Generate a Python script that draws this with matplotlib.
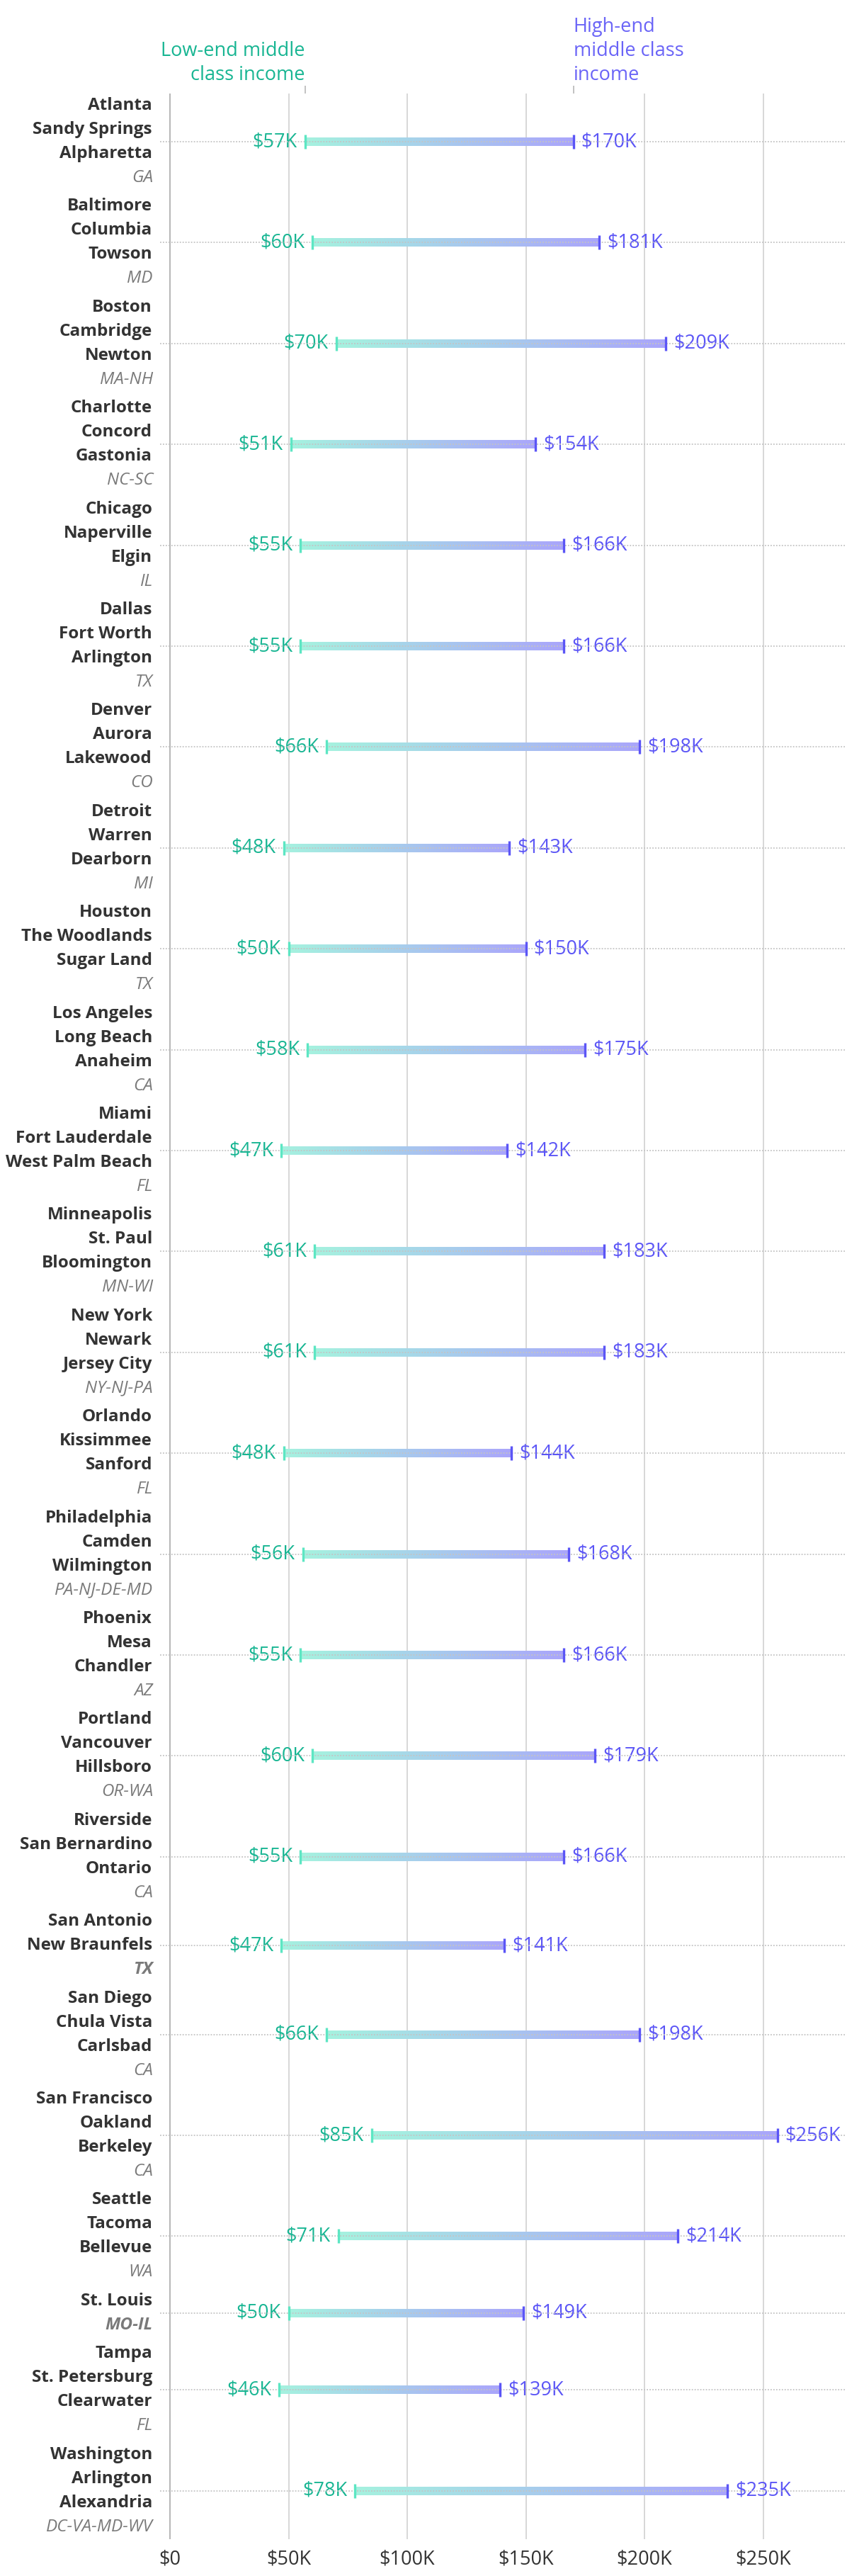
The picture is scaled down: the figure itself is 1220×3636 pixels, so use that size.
import numpy as np
import matplotlib.pyplot as plt
from matplotlib import transforms
from matplotlib.colors import LinearSegmentedColormap

plt.rcParams['font.family'] = ['Open Sans', 'DejaVu Sans']

# data
cities = [
    ['Atlanta', 'Sandy Springs', 'Alpharetta'],
    ['Baltimore', 'Columbia', 'Towson'],
    ['Boston', 'Cambridge', 'Newton'],
    ['Charlotte', 'Concord', 'Gastonia'],
    ['Chicago', 'Naperville', 'Elgin'],
    ['Dallas', 'Fort Worth', 'Arlington'],
    ['Denver', 'Aurora', 'Lakewood'],
    ['Detroit', 'Warren', 'Dearborn'],
    ['Houston', 'The Woodlands', 'Sugar Land'],
    ['Los Angeles', 'Long Beach', 'Anaheim'],
    ['Miami', 'Fort Lauderdale', 'West Palm Beach'],
    ['Minneapolis', 'St. Paul', 'Bloomington'],
    ['New York', 'Newark', 'Jersey City'],
    ['Orlando', 'Kissimmee', 'Sanford'],
    ['Philadelphia', 'Camden', 'Wilmington'],
    ['Phoenix', 'Mesa', 'Chandler'],
    ['Portland', 'Vancouver', 'Hillsboro'],
    ['Riverside', 'San Bernardino', 'Ontario'],
    ['San Antonio', 'New Braunfels'],
    ['San Diego', 'Chula Vista', 'Carlsbad'],
    ['San Francisco', 'Oakland', 'Berkeley'],
    ['Seattle', 'Tacoma', 'Bellevue'],
    ['St. Louis'],
    ['Tampa', 'St. Petersburg', 'Clearwater'],
    ['Washington', 'Arlington', 'Alexandria'],
]
states = ['GA', 'MD', 'MA-NH', 'NC-SC', 'IL', 'TX', 'CO', 'MI', 'TX', 'CA', 'FL',
          'MN-WI', 'NY-NJ-PA', 'FL', 'PA-NJ-DE-MD', 'AZ', 'OR-WA', 'CA', 'TX', 'CA',
          'CA', 'WA', 'MO-IL', 'FL', 'DC-VA-MD-WV']
low = [57, 60, 70, 51, 55, 55, 66, 48, 50, 58, 47, 61, 61, 48, 56, 55, 60, 55, 47,
       66, 85, 71, 50, 46, 78]
high = [170, 181, 209, 154, 166, 166, 198, 143, 150, 175, 142, 183, 183, 144, 168,
        166, 179, 166, 141, 198, 256, 214, 149, 139, 235]
xticks = [0, 50, 100, 150, 200, 250]
xticklabels = ['$0', '$50K', '$100K', '$150K', '$200K', '$250K']

teal_txt = '#17b592'
teal_tick = '#5de6c3'
purple = '#5b55f6'
dark = '#333333'
grey = '#7a7a7a'
name_fs = 17.5
val_fs = 19.5

W, H = 1220, 3636
fig = plt.figure(figsize=(W / 100, H / 100), dpi=100)

# layout in pixels
line_h = 34
gap = 6.4
n_lines = [len(c) + 1 for c in cities]
tops = []
y = 0
for n in n_lines:
    tops.append(y)
    y += n * line_h + gap
total = y - gap
centers = [t + n * line_h / 2 for t, n in zip(tops, n_lines)]

ax_top, ax_left, ax_right = 132, 226, 1193
x0_px, px_per_k = 240, 167.5 / 50
ax = fig.add_axes([ax_left / W, 1 - (ax_top + total) / H,
                   (ax_right - ax_left) / W, total / H])
xlim = ((ax_left - x0_px) / px_per_k, (ax_right - x0_px) / px_per_k)

# grid lines
for t in xticks:
    ax.axvline(t, color='#b0b0b0' if t == 0 else '#d4d4d4', lw=1.3, zorder=0)

cmap = LinearSegmentedColormap.from_list('mc', ['#a5f2df', '#aaa5fb'])
grad = np.linspace(0, 1, 256).reshape(1, -1)

for i in range(len(cities)):
    c = centers[i]
    ax.imshow(grad, cmap=cmap, aspect='auto', extent=(low[i], high[i], c + 6, c - 6),
              zorder=2, interpolation='bilinear')
    ax.vlines(low[i], c - 10, c + 10, color=teal_tick, lw=2.4, zorder=4)
    ax.vlines(high[i], c - 10, c + 10, color=purple, lw=2.4, zorder=4)
    ax.annotate(f'${low[i]}K', (low[i], c), xytext=(-8, 0), textcoords='offset points',
                ha='right', va='center', color=teal_txt, fontsize=val_fs)
    ax.annotate(f'${high[i]}K', (high[i], c), xytext=(8, 0), textcoords='offset points',
                ha='left', va='center', color=purple, fontsize=val_fs)

ax.hlines(centers, xlim[0], xlim[1], colors='#c4c4c4', lw=1.3,
          linestyles=(0, (1, 1.2)), zorder=3)

# row labels
trans = transforms.blended_transform_factory(fig.transFigure, ax.transData)
for i in range(len(cities)):
    short = len(cities[i]) < 3
    for k, name in enumerate(cities[i]):
        ax.text(215 / W, tops[i] + (k + 0.5) * line_h, name, transform=trans,
                ha='right', va='center', fontsize=name_fs, fontweight='bold', color=dark)
    k = len(cities[i])
    ax.text(216 / W, tops[i] + (k + 0.5) * line_h, states[i], transform=trans,
            ha='right', va='center', fontsize=name_fs, style='italic',
            fontweight='bold' if short else 'normal', color=grey)

# header annotations on the first row
for k, line in enumerate(['Low-end middle', 'class income']):
    ax.text(low[0], -60 + k * line_h, line, ha='right', va='center', color=teal_txt,
            fontsize=val_fs, clip_on=False)
for k, line in enumerate(['High-end', 'middle class', 'income']):
    ax.text(high[0], -94 + k * line_h, line, ha='left', va='center', color='#6a64f7',
            fontsize=val_fs, clip_on=False)
ax.vlines([low[0], high[0]], -11, 0, color='#b8b8b8', lw=1.2, clip_on=False)

ax.set_xlim(xlim)
ax.set_ylim(total, 0)
ax.set_xticks(xticks)
ax.set_xticklabels(xticklabels, fontsize=val_fs, color=dark)
ax.tick_params(axis='x', length=0, pad=11)
ax.set_yticks([])
for s in ax.spines.values():
    s.set_visible(False)

fig.savefig('out.png', dpi=100, facecolor='white')
